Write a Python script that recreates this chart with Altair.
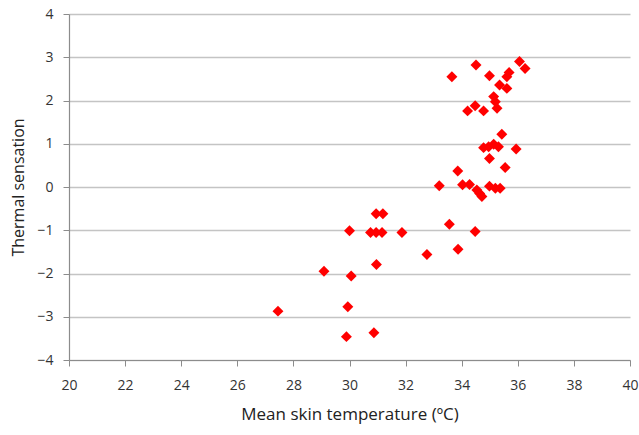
import altair as alt
import pandas as pd

skin_temp = [
    33.65, 34.51, 34.99, 35.61, 35.69, 36.06, 36.26, 35.35, 35.61, 35.14,
    35.20, 35.26, 34.21, 34.48, 34.78,
    35.43, 34.78, 34.96, 35.14, 35.31, 35.94, 34.99, 35.55, 33.86, 33.20,
    34.03, 34.28, 34.54, 34.64, 34.72, 34.99, 35.20, 35.37,
    30.95, 31.19, 30.75, 30.95, 31.16, 31.87,
    30.00, 33.56, 34.48, 32.76, 33.87, 30.96, 29.09, 30.06, 27.45, 29.94,
    29.89, 30.87,
]
sensation = [
    2.55, 2.82, 2.57, 2.55, 2.65, 2.90, 2.74, 2.36, 2.28, 2.09,
    1.97, 1.82, 1.76, 1.88, 1.76,
    1.22, 0.91, 0.93, 0.99, 0.93, 0.88, 0.66, 0.45, 0.37, 0.03,
    0.05, 0.06, -0.07, -0.15, -0.22, 0.02, -0.03, -0.03,
    -0.62, -0.62, -1.05, -1.05, -1.05, -1.05,
    -1.01, -0.86, -1.03, -1.56, -1.44, -1.79, -1.95, -2.06, -2.87, -2.77,
    -3.46, -3.37,
]
x_ticks = [20, 22, 24, 26, 28, 30, 32, 34, 36, 38, 40]
y_ticks = [-4, -3, -2, -1, 0, 1, 2, 3, 4]

df = pd.DataFrame({"t": skin_temp, "s": sensation})

font = "Open Sans"

chart = alt.Chart(df).mark_point(
    shape="diamond", filled=True, color="#ff0000", size=120, opacity=1
).encode(
    x=alt.X("t:Q", scale=alt.Scale(domain=[20, 40], nice=False, zero=False),
            axis=alt.Axis(values=x_ticks, title="Mean skin temperature (ºC)", grid=False,
                          labelFont=font, labelFontSize=14, labelColor="#333333",
                          labelFlush=False,
                          titleFont=font, titleFontSize=17, titleFontWeight="normal",
                          titleColor="#222222", titlePadding=14,
                          domainColor="#8c8c8c", tickColor="#8c8c8c", tickSize=6,
                          labelPadding=12, domainWidth=1.2)),
    y=alt.Y("s:Q", scale=alt.Scale(domain=[-4, 4], nice=False, zero=False),
            axis=alt.Axis(values=y_ticks, title="Thermal sensation", grid=True,
                          gridColor="#c4c4c4", gridWidth=1.3,
                          labelFont=font, labelFontSize=14, labelColor="#333333",
                          labelFlush=False,
                          titleFont=font, titleFontSize=16, titleFontWeight="normal",
                          titleColor="#222222", titlePadding=10,
                          domainColor="#8c8c8c", tickColor="#8c8c8c", tickSize=6,
                          labelPadding=10, domainWidth=1.2)),
).properties(
    width=561, height=346,
    autosize=alt.AutoSizeParams(type="none"),
    padding={"left": 69, "top": 14, "right": 9, "bottom": 75},
    background="white",
).configure_view(stroke=None)

chart.save("out.html", embed_options={"renderer": "svg", "actions": False})
